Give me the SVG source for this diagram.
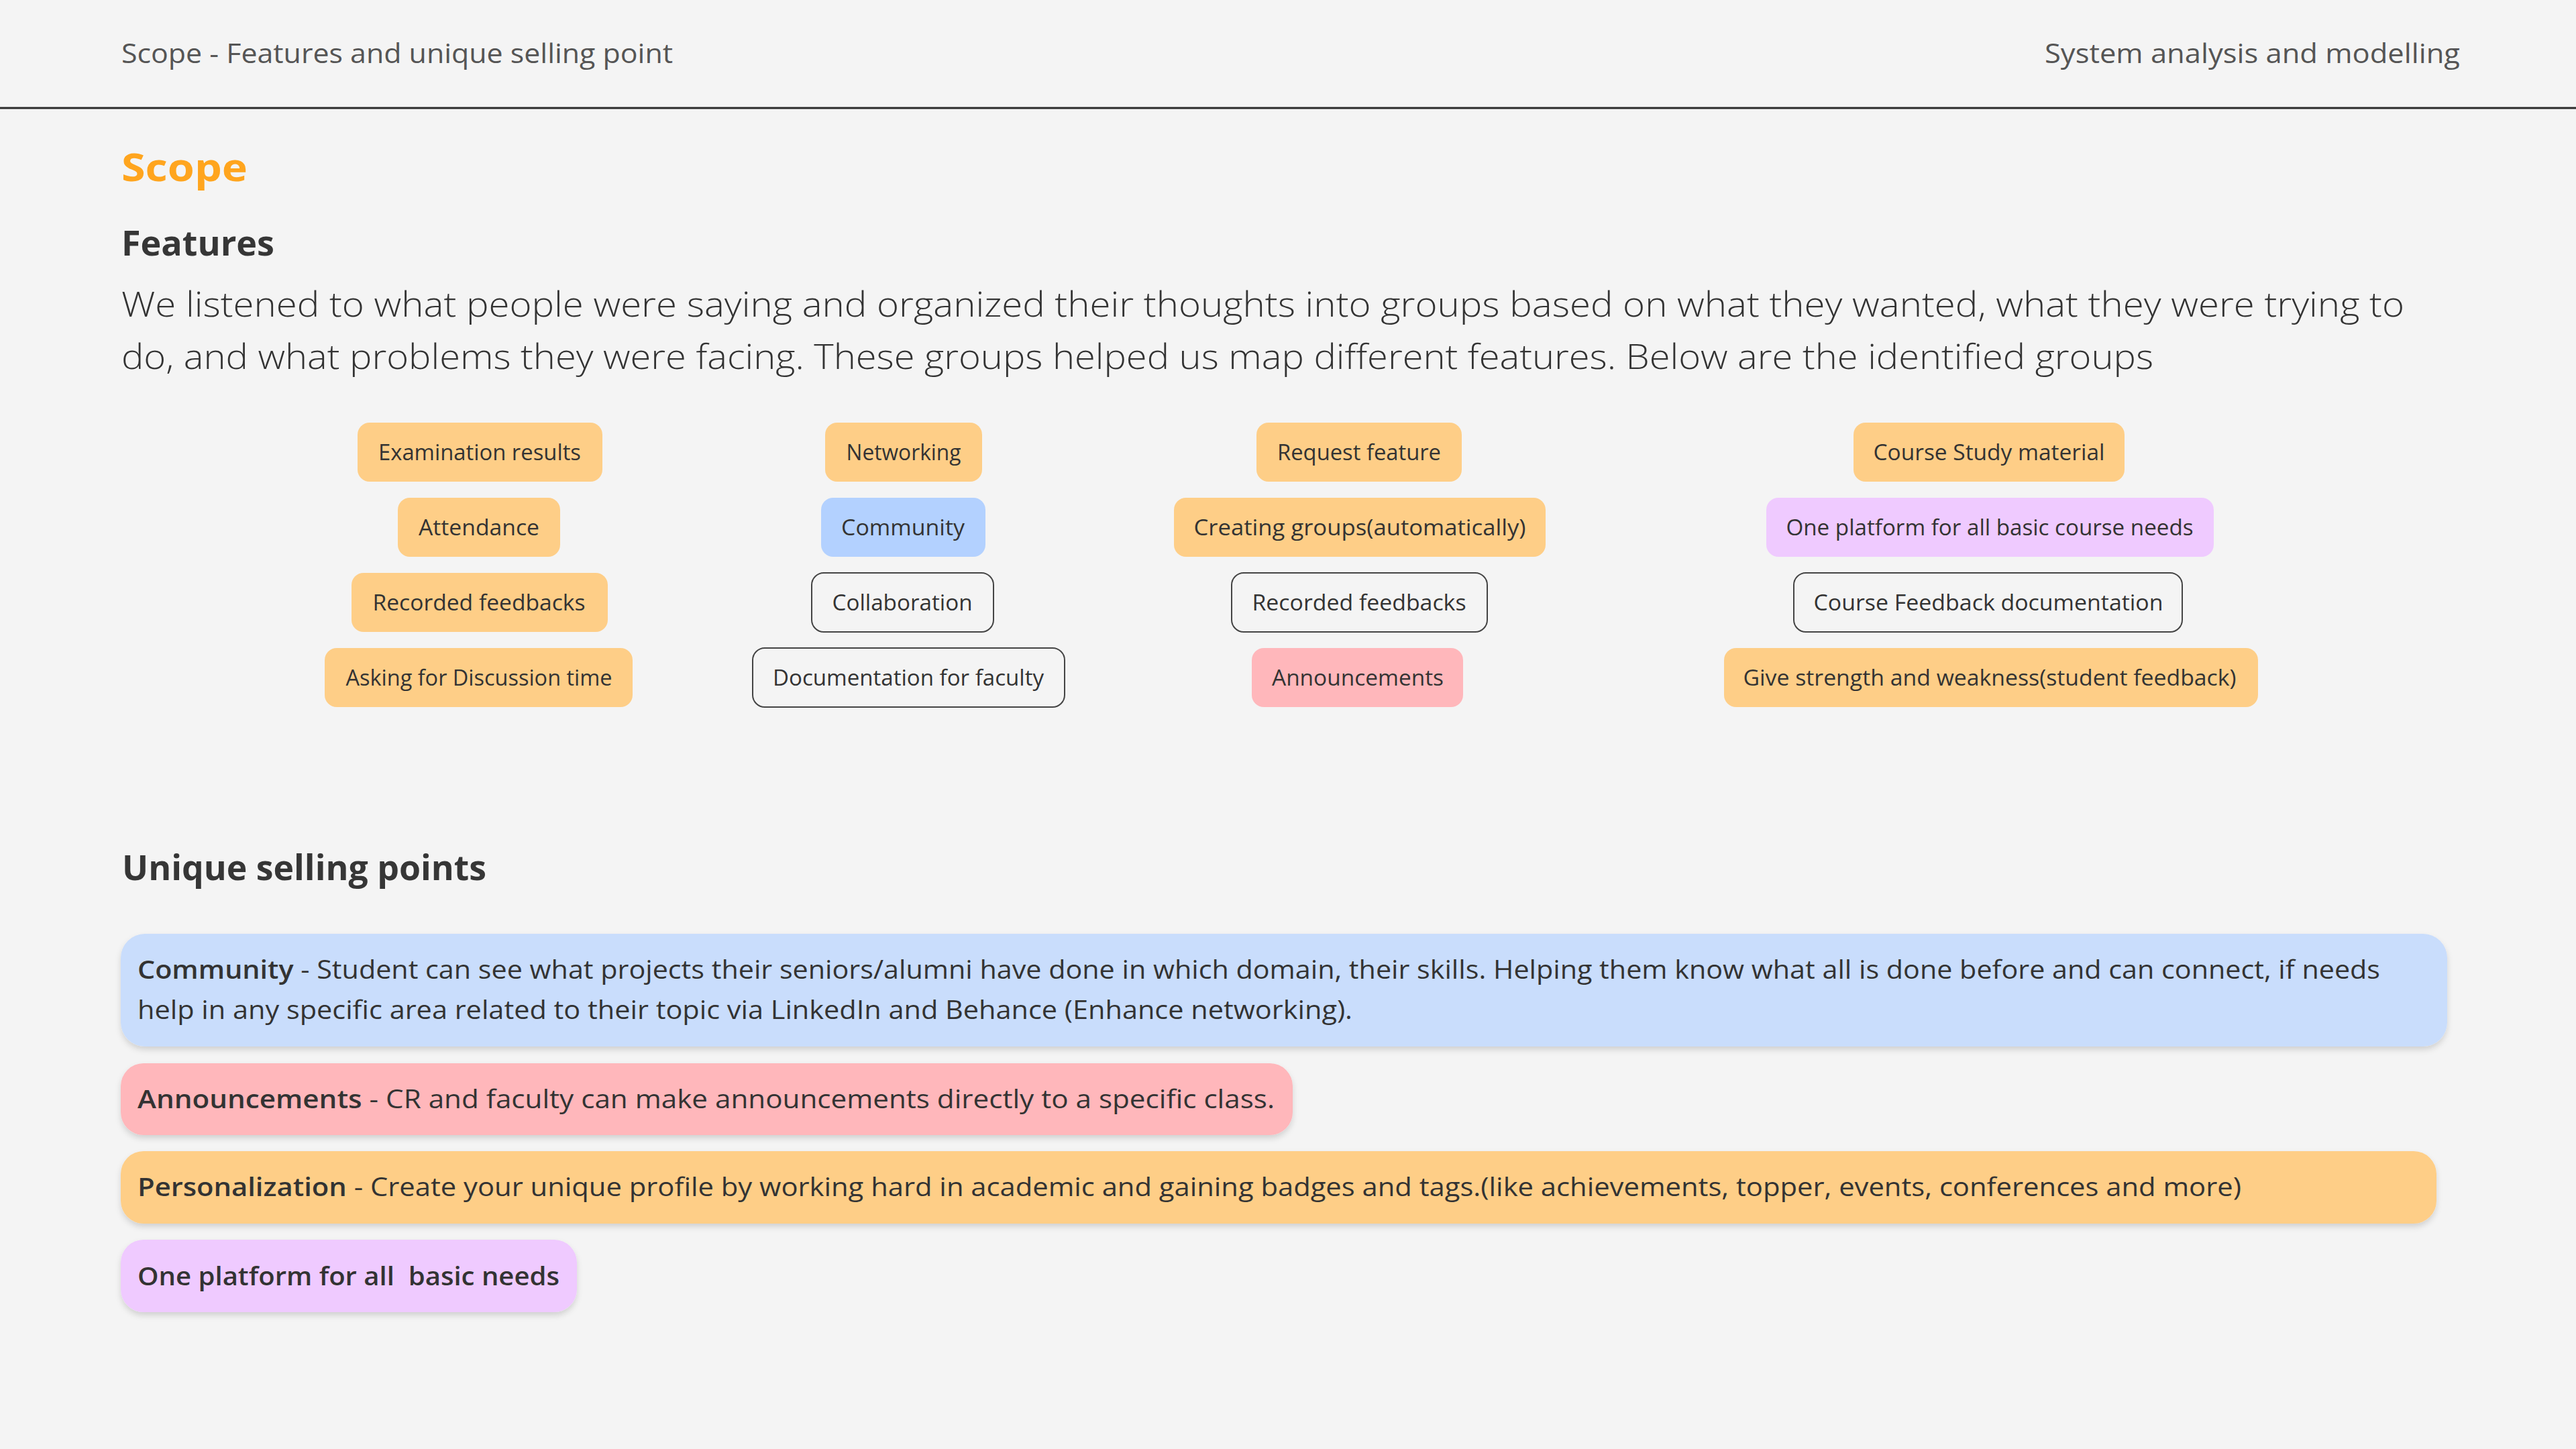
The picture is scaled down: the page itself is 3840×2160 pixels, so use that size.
<svg xmlns="http://www.w3.org/2000/svg" width="3840" height="2160" viewBox="0 0 3840 2160">
<defs>
<style>
text{font-family:"Open Sans","Liberation Sans",sans-serif;fill:#333333}
.hdr{font-size:40px;font-weight:400;fill:#555555}
.ttl{font-size:58px;font-weight:700;fill:#FFA51E}
.h2{font-size:52px;font-weight:700;fill:#363636}
.para{font-size:52px;font-weight:300;fill:#333333}
.chip{font-size:32px;font-weight:400;text-anchor:middle;fill:#333333}
.usp{font-size:38px;font-weight:400;fill:#333333}
.b{font-weight:600}
.or{fill:#FECE87}
.bl{fill:#B3D1FF}
.pk{fill:#FFB7BB}
.pu{fill:#EFCAFF}
.ol{fill:none;stroke:#444444;stroke-width:2}
</style>
<filter id="sh" x="-5%" y="-20%" width="110%" height="150%">
<feDropShadow dx="0" dy="5" stdDeviation="4" flood-color="#000000" flood-opacity="0.14"/>
</filter>
</defs>
<rect width="3840" height="2160" fill="#F4F4F4"/>

<g id="header">
<text class="hdr" x="181" y="94" textLength="822" lengthAdjust="spacingAndGlyphs">Scope - Features and unique selling point</text>
<text class="hdr" x="3048" y="94" textLength="619" lengthAdjust="spacingAndGlyphs">System analysis and modelling</text>
<line x1="0" y1="161" x2="3840" y2="161" stroke="#2a2a2a" stroke-width="3"/>
</g>

<g id="titles">
<text class="ttl" x="181" y="270" textLength="188" lengthAdjust="spacingAndGlyphs">Scope</text>
<text class="h2" x="181" y="381" textLength="228" lengthAdjust="spacingAndGlyphs">Features</text>
<text class="para" x="181" y="472" textLength="3403" lengthAdjust="spacingAndGlyphs">We listened to what people were saying and organized their thoughts into groups based on what they wanted, what they were trying to</text>
<text class="para" x="181" y="550" textLength="3029" lengthAdjust="spacingAndGlyphs">do, and what problems they were facing. These groups helped us map different features. Below are the identified groups</text>
<text class="h2" x="182" y="1312" textLength="543" lengthAdjust="spacingAndGlyphs">Unique selling points</text>
</g>

<g id="connectors"></g>

<g id="feat-examination-results"><rect class="or" x="533" y="630" width="365" height="88" rx="18"/><text class="chip" x="715" y="686" textLength="302" lengthAdjust="spacingAndGlyphs">Examination results</text></g>
<g id="feat-attendance"><rect class="or" x="593" y="742" width="242" height="88" rx="18"/><text class="chip" x="714" y="798" textLength="180" lengthAdjust="spacingAndGlyphs">Attendance</text></g>
<g id="feat-recorded-feedbacks-1"><rect class="or" x="524" y="854" width="382" height="88" rx="18"/><text class="chip" x="714" y="910" textLength="317" lengthAdjust="spacingAndGlyphs">Recorded feedbacks</text></g>
<g id="feat-asking-discussion"><rect class="or" x="484" y="966" width="459" height="88" rx="18"/><text class="chip" x="714" y="1022" textLength="397" lengthAdjust="spacingAndGlyphs">Asking for Discussion time</text></g>

<g id="feat-networking"><rect class="or" x="1230" y="630" width="234" height="88" rx="18"/><text class="chip" x="1347" y="686" textLength="171" lengthAdjust="spacingAndGlyphs">Networking</text></g>
<g id="feat-community"><rect class="bl" x="1224" y="742" width="245" height="88" rx="18"/><text class="chip" x="1346" y="798" textLength="184" lengthAdjust="spacingAndGlyphs">Community</text></g>
<g id="feat-collaboration"><rect class="ol" x="1210" y="854" width="271" height="88" rx="18"/><text class="chip" x="1345" y="910" textLength="209" lengthAdjust="spacingAndGlyphs">Collaboration</text></g>
<g id="feat-documentation-faculty"><rect class="ol" x="1122" y="966" width="465" height="88" rx="18"/><text class="chip" x="1354" y="1022" textLength="404" lengthAdjust="spacingAndGlyphs">Documentation for faculty</text></g>

<g id="feat-request-feature"><rect class="or" x="1873" y="630" width="306" height="88" rx="18"/><text class="chip" x="2026" y="686" textLength="244" lengthAdjust="spacingAndGlyphs">Request feature</text></g>
<g id="feat-creating-groups"><rect class="or" x="1750" y="742" width="554" height="88" rx="18"/><text class="chip" x="2027" y="798" textLength="495" lengthAdjust="spacingAndGlyphs">Creating groups(automatically)</text></g>
<g id="feat-recorded-feedbacks-2"><rect class="ol" x="1836" y="854" width="381" height="88" rx="18"/><text class="chip" x="2026" y="910" textLength="319" lengthAdjust="spacingAndGlyphs">Recorded feedbacks</text></g>
<g id="feat-announcements"><rect class="pk" x="1866" y="966" width="315" height="88" rx="18"/><text class="chip" x="2024" y="1022" textLength="256" lengthAdjust="spacingAndGlyphs">Announcements</text></g>

<g id="feat-course-study-material"><rect class="or" x="2763" y="630" width="404" height="88" rx="18"/><text class="chip" x="2965" y="686" textLength="345" lengthAdjust="spacingAndGlyphs">Course Study material</text></g>
<g id="feat-one-platform"><rect class="pu" x="2633" y="742" width="667" height="88" rx="18"/><text class="chip" x="2966" y="798" textLength="607" lengthAdjust="spacingAndGlyphs">One platform for all basic course needs</text></g>
<g id="feat-course-feedback-doc"><rect class="ol" x="2674" y="854" width="579" height="88" rx="18"/><text class="chip" x="2964" y="910" textLength="521" lengthAdjust="spacingAndGlyphs">Course Feedback documentation</text></g>
<g id="feat-strength-weakness"><rect class="or" x="2570" y="966" width="796" height="88" rx="18"/><text class="chip" x="2966" y="1022" textLength="735" lengthAdjust="spacingAndGlyphs">Give strength and weakness(student feedback)</text></g>

<g id="usp-community">
<rect x="180" y="1392" width="3468" height="168" rx="36" fill="#C9DDFC" filter="url(#sh)"/>
<text class="usp" x="205" y="1459" textLength="3343" lengthAdjust="spacingAndGlyphs"><tspan class="b">Community</tspan> - Student can see what projects their seniors/alumni have done in which domain, their skills. Helping them know what all is done before and can connect, if needs</text>
<text class="usp" x="205" y="1519" textLength="1811" lengthAdjust="spacingAndGlyphs">help in any specific area related to their topic via LinkedIn and Behance (Enhance networking).</text>
</g>
<g id="usp-announcements">
<rect x="180" y="1585" width="1747" height="107" rx="34" fill="#FFB7BB" filter="url(#sh)"/>
<text class="usp" x="205" y="1652" textLength="1695" lengthAdjust="spacingAndGlyphs"><tspan class="b">Announcements</tspan> - CR and faculty can make announcements directly to a specific class.</text>
</g>
<g id="usp-personalization">
<rect x="180" y="1716" width="3452" height="108" rx="34" fill="#FECE87" filter="url(#sh)"/>
<text class="usp" x="205" y="1783" textLength="3136" lengthAdjust="spacingAndGlyphs"><tspan class="b">Personalization</tspan> - Create your unique profile by working hard in academic and gaining badges and tags.(like achievements, topper, events, conferences and more)</text>
</g>
<g id="usp-one-platform">
<rect x="180" y="1848" width="680" height="108" rx="34" fill="#EFCAFF" filter="url(#sh)"/>
<text class="usp" x="205" y="1916" textLength="629" lengthAdjust="spacingAndGlyphs" style="font-weight:600;white-space:pre">One platform for all  basic needs</text>
</g>
</svg>
